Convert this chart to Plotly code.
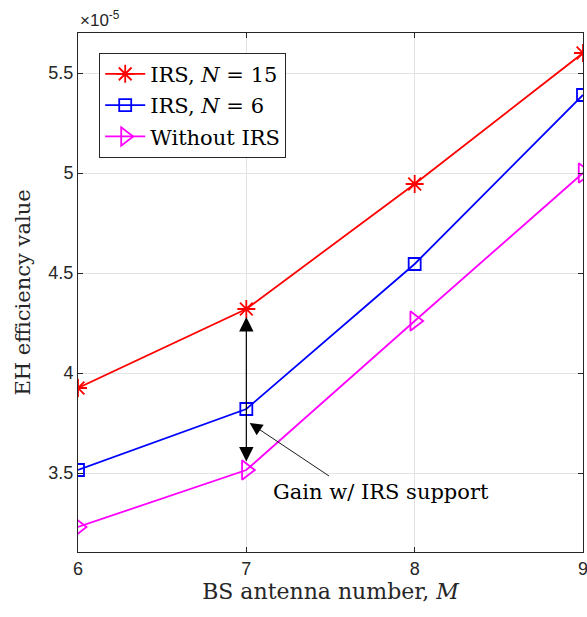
import plotly.graph_objects as go

M = [6, 7, 8, 9]
irs_n15 = [3.925e-5, 4.32e-5, 4.945e-5, 5.60e-5]
irs_n6 = [3.515e-5, 3.82e-5, 4.545e-5, 5.39e-5]
without_irs = [3.23e-5, 3.515e-5, 4.26e-5, 5.00e-5]

ytick_vals = [3.5e-5, 4.0e-5, 4.5e-5, 5.0e-5, 5.5e-5]
ytick_text = ["3.5", "4", "4.5", "5", "5.5"]
xtick_vals = [6, 7, 8, 9]

SERIF = "DejaVu Serif, Liberation Serif, serif"
SANS = "Liberation Sans, Arial, sans-serif"
AX = "#262626"

fig = go.Figure()
fig.add_trace(go.Scatter(
    x=M, y=irs_n15, mode="lines+markers", name="IRS, <i>N</i> = 15",
    legendgroup="a",
    line=dict(color="#ff0000", width=1.8),
    marker=dict(symbol="asterisk-open", size=15, color="#ff0000",
                line=dict(color="#ff0000", width=1.8))))
fig.add_trace(go.Scatter(
    x=M, y=irs_n6, mode="lines+markers", name="IRS, <i>N</i> = 6",
    legendgroup="b",
    line=dict(color="#0000ff", width=1.8),
    marker=dict(symbol="square-open", size=12, color="#0000ff",
                line=dict(color="#0000ff", width=1.8))))
fig.add_trace(go.Scatter(
    x=M, y=without_irs, mode="lines+markers", name="Without IRS",
    legendgroup="c",
    line=dict(color="#ff00ff", width=1.8),
    marker=dict(symbol="triangle-right-open", size=17, color="#ff00ff",
                line=dict(color="#ff00ff", width=1.8))))

# double arrow at M = 7
fig.add_annotation(x=7, y=4.28e-5, ax=7, ay=3.55e-5, xref="x", yref="y",
                   axref="x", ayref="y", text="", showarrow=True,
                   arrowside="end+start", standoff=0, startstandoff=0,
                   arrowhead=2, startarrowhead=2, arrowsize=2.4, startarrowsize=2.4,
                   arrowwidth=1.2, arrowcolor="black")
# pointer arrow
fig.add_annotation(x=7.02, y=3.75e-5, ax=7.5, ay=3.48e-5, xref="x", yref="y",
                   axref="x", ayref="y", text="", showarrow=True,
                   arrowhead=2, arrowsize=2.8, arrowwidth=0.9, arrowcolor="black")
fig.add_annotation(x=7.8, y=3.405e-5, xref="x", yref="y", text="Gain w/ IRS support",
                   showarrow=False, font=dict(family=SERIF, size=21, color="black"))
# exponent label
fig.add_annotation(x=0, y=1, xref="paper", yref="paper", xanchor="left", yanchor="bottom",
                   text="×10<sup>-5</sup>", showarrow=False, yshift=1,
                   font=dict(family=SANS, size=17, color=AX))

fig.update_layout(
    width=587, height=617,
    margin=dict(l=78, r=4, t=33, b=65),
    paper_bgcolor="white", plot_bgcolor="white",
    showlegend=True,
    legend=dict(x=0.042, y=0.962, xanchor="left", yanchor="top",
                bgcolor="white", bordercolor=AX, borderwidth=1,
                font=dict(family=SERIF, size=21, color="black"),
                traceorder="grouped", tracegroupgap=1,
                itemwidth=40),
    xaxis=dict(range=[6, 9], tickvals=xtick_vals, showgrid=True, gridcolor="#e3e3e3",
               gridwidth=1, zeroline=False, showline=True, linecolor=AX, linewidth=1,
               mirror="ticks", ticks="inside", ticklen=5, tickcolor=AX,
               ticklabeloverflow="allow", automargin=False,
               tickfont=dict(family=SANS, size=18, color=AX),
               title=dict(text="BS antenna number, <i>M</i>", standoff=4,
                          font=dict(family=SERIF, size=22, color=AX))),
    yaxis=dict(range=[3.105e-5, 5.7e-5], tickvals=ytick_vals, ticktext=ytick_text,
               showgrid=True, gridcolor="#e3e3e3", gridwidth=1, zeroline=False,
               showline=True, linecolor=AX, linewidth=1, mirror="ticks",
               ticks="inside", ticklen=5, tickcolor=AX, automargin=False,
               tickfont=dict(family=SANS, size=18, color=AX),
               title=dict(text="EH efficiency value", standoff=12,
                          font=dict(family=SERIF, size=21, color=AX))),
)

fig.write_html("out.html", config={"displayModeBar": False},
               post_script="document.body.style.margin='0';document.body.style.overflow='hidden';")
